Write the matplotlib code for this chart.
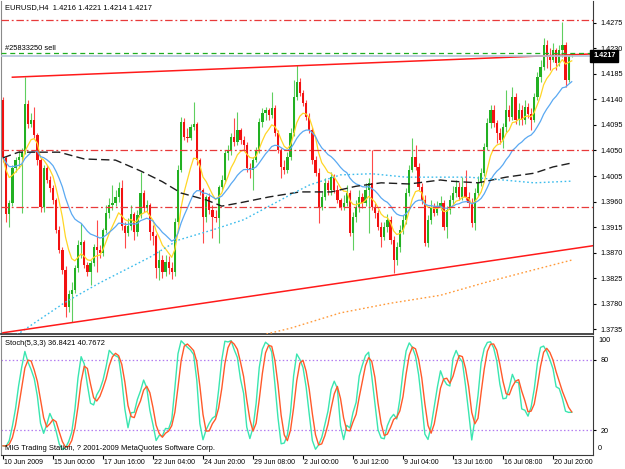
import numpy as np
import pandas as pd
import matplotlib
matplotlib.use("Agg")
import matplotlib.pyplot as plt

# EURUSD H4, 10 Jun 2009 08:00 .. 21 Jul 2009 20:00
opens = [
    1.4139, 1.4037, 1.3938, 1.3958, 1.4019, 1.4033, 1.4038, 1.4047, 1.4132, 1.4097,
    1.4104, 1.4077, 1.4033, 1.3950, 1.4019, 1.3998, 1.3984, 1.3963, 1.3910, 1.3875,
    1.3840, 1.3774, 1.3797, 1.3804, 1.3843, 1.3884, 1.3889, 1.3848, 1.3836, 1.3852,
    1.3880, 1.3875, 1.3870, 1.3910, 1.3940, 1.3954, 1.3958, 1.3968, 1.3984, 1.3917,
    1.3905, 1.3917, 1.3938, 1.3906, 1.3936, 1.3975, 1.3949, 1.3954, 1.3906, 1.3899,
    1.3843, 1.3857, 1.3836, 1.3854, 1.3843, 1.3836, 1.3924, 1.4016, 1.4100, 1.4074,
    1.4072, 1.4091, 1.4097, 1.4033, 1.3980, 1.3933, 1.3968, 1.3945, 1.3933, 1.3931,
    1.3986, 1.3998, 1.4046, 1.4051, 1.4074, 1.4065, 1.4086, 1.4069, 1.4060, 1.4019,
    1.4016, 1.4033, 1.4051, 1.4100, 1.4116, 1.4121, 1.4113, 1.4125, 1.4081, 1.4051,
    1.4021, 1.4016, 1.4038, 1.4081, 1.4144, 1.4171, 1.4151, 1.4134, 1.4109, 1.4086,
    1.4033, 1.4010, 1.3950, 1.3968, 1.3993, 1.3980, 1.4003, 1.3980, 1.3963, 1.3950,
    1.3958, 1.3975, 1.3905, 1.3933, 1.3950, 1.3968, 1.3958, 1.3980, 1.3993, 1.3950,
    1.3940, 1.3915, 1.3898, 1.3915, 1.3928, 1.3892, 1.3857, 1.3880, 1.3910, 1.3928,
    1.3975, 1.4016, 1.4038, 1.4021, 1.3986, 1.3963, 1.3887, 1.3928, 1.3950, 1.3940,
    1.3950, 1.3958, 1.3915, 1.3945, 1.3963, 1.3975, 1.3986, 1.3968, 1.3986, 1.3968,
    1.3958, 1.3922, 1.3975, 1.3993, 1.4010, 1.4056, 1.4098, 1.4121, 1.4098, 1.4081,
    1.4069, 1.4091, 1.4121, 1.4109, 1.4144, 1.4104, 1.4121, 1.4104, 1.4127, 1.4115,
    1.4104, 1.4144, 1.4179, 1.4197, 1.4236, 1.4215, 1.4209, 1.4227, 1.4204, 1.4227,
    1.4236, 1.4174, 1.4216,
]
highs = [
    1.4144, 1.4040, 1.3963, 1.4024, 1.4038, 1.4051, 1.4054, 1.4179, 1.4139, 1.4116,
    1.4127, 1.4081, 1.4037, 1.4024, 1.4024, 1.4005, 1.3989, 1.3966, 1.3917, 1.3880,
    1.3847, 1.3804, 1.3818, 1.3848, 1.3892, 1.3923, 1.3892, 1.3854, 1.3857, 1.3885,
    1.3928, 1.3884, 1.3914, 1.3954, 1.3966, 1.3989, 1.3980, 1.3994, 1.3998, 1.3924,
    1.3931, 1.3954, 1.3942, 1.3945, 1.4012, 1.3980, 1.3963, 1.3958, 1.3919, 1.3903,
    1.3875, 1.3866, 1.3866, 1.3864, 1.3854, 1.3931, 1.4024, 1.4109, 1.4107, 1.4090,
    1.4097, 1.4135, 1.4100, 1.4037, 1.3984, 1.3972, 1.3975, 1.3954, 1.3945, 1.3989,
    1.4007, 1.4051, 1.4060, 1.4081, 1.4107, 1.4118, 1.4090, 1.4076, 1.4065, 1.4028,
    1.4038, 1.4056, 1.4107, 1.4125, 1.4127, 1.4125, 1.4153, 1.4130, 1.4086, 1.4054,
    1.4033, 1.4047, 1.4090, 1.4174, 1.4201, 1.4177, 1.4157, 1.4139, 1.4116, 1.4091,
    1.4040, 1.4019, 1.3977, 1.4002, 1.3998, 1.4012, 1.4009, 1.3989, 1.3966, 1.3972,
    1.3989, 1.3980, 1.3942, 1.3963, 1.3980, 1.3975, 1.3993, 1.4002, 1.4051, 1.3958,
    1.3945, 1.3924, 1.3924, 1.3938, 1.3935, 1.3899, 1.3889, 1.3919, 1.3936, 1.3984,
    1.4024, 1.4072, 1.4060, 1.4028, 1.3993, 1.3972, 1.3936, 1.3963, 1.3958, 1.3961,
    1.3970, 1.3963, 1.3952, 1.3972, 1.3987, 1.3998, 1.3994, 1.4003, 1.4016, 1.3977,
    1.3966, 1.3984, 1.4005, 1.4019, 1.4063, 1.4107, 1.4130, 1.4130, 1.4104, 1.4090,
    1.4098, 1.4157, 1.4130, 1.4162, 1.4151, 1.4134, 1.4130, 1.4139, 1.4134, 1.4125,
    1.4151, 1.4188, 1.4209, 1.4248, 1.4245, 1.4230, 1.4239, 1.4230, 1.4236, 1.4276,
    1.4241, 1.4220, 1.4221,
]
lows = [
    1.4029, 1.3924, 1.3916, 1.3952, 1.4012, 1.4019, 1.3940, 1.4044, 1.4090, 1.4091,
    1.4072, 1.4024, 1.3942, 1.3942, 1.3993, 1.3977, 1.3956, 1.3905, 1.3870, 1.3833,
    1.3757, 1.3766, 1.3748, 1.3799, 1.3836, 1.3861, 1.3843, 1.3829, 1.3813, 1.3847,
    1.3836, 1.3861, 1.3864, 1.3905, 1.3931, 1.3945, 1.3952, 1.3959, 1.3910, 1.3878,
    1.3899, 1.3910, 1.3892, 1.3899, 1.3931, 1.3942, 1.3942, 1.3892, 1.3884, 1.3826,
    1.3822, 1.3826, 1.3829, 1.3833, 1.3824, 1.3829, 1.3919, 1.4012, 1.4069, 1.4065,
    1.4069, 1.4086, 1.4024, 1.3972, 1.3887, 1.3924, 1.3938, 1.3896, 1.3924, 1.3887,
    1.3980, 1.3993, 1.4033, 1.4042, 1.4058, 1.4060, 1.4062, 1.4051, 1.4012, 1.4002,
    1.3980, 1.4029, 1.4046, 1.4091, 1.4104, 1.4104, 1.4107, 1.4076, 1.4046, 1.4002,
    1.4009, 1.4010, 1.4033, 1.4076, 1.4139, 1.4146, 1.4128, 1.4104, 1.4081, 1.4026,
    1.4005, 1.3922, 1.3945, 1.3963, 1.3972, 1.3972, 1.3975, 1.3958, 1.3945, 1.3945,
    1.3952, 1.3899, 1.3875, 1.3924, 1.3942, 1.3949, 1.3952, 1.3905, 1.3945, 1.3931,
    1.3910, 1.3880, 1.3892, 1.3906, 1.3885, 1.3834, 1.3848, 1.3871, 1.3903, 1.3921,
    1.3970, 1.4012, 1.4016, 1.3980, 1.3956, 1.3882, 1.3880, 1.3921, 1.3935, 1.3936,
    1.3945, 1.3910, 1.3896, 1.3938, 1.3956, 1.3968, 1.3963, 1.3963, 1.3963, 1.3950,
    1.3915, 1.3910, 1.3970, 1.3987, 1.4005, 1.4051, 1.4090, 1.4091, 1.4063, 1.4062,
    1.4054, 1.4083, 1.4102, 1.4104, 1.4097, 1.4095, 1.4095, 1.4097, 1.4108, 1.4086,
    1.4100, 1.4139, 1.4171, 1.4192, 1.4195, 1.4192, 1.4206, 1.4192, 1.4199, 1.4215,
    1.4162, 1.4170, 1.4214,
]
closes = [
    1.4037, 1.3938, 1.3958, 1.4019, 1.4033, 1.4038, 1.4047, 1.4132, 1.4097, 1.4104,
    1.4077, 1.4033, 1.3950, 1.4019, 1.3998, 1.3984, 1.3963, 1.3910, 1.3875, 1.3840,
    1.3774, 1.3797, 1.3804, 1.3843, 1.3884, 1.3889, 1.3848, 1.3836, 1.3852, 1.3880,
    1.3875, 1.3870, 1.3910, 1.3940, 1.3954, 1.3958, 1.3968, 1.3984, 1.3917, 1.3905,
    1.3917, 1.3938, 1.3906, 1.3936, 1.3975, 1.3949, 1.3954, 1.3906, 1.3899, 1.3843,
    1.3857, 1.3836, 1.3854, 1.3843, 1.3836, 1.3924, 1.4016, 1.4100, 1.4074, 1.4072,
    1.4091, 1.4097, 1.4033, 1.3980, 1.3933, 1.3968, 1.3945, 1.3933, 1.3931, 1.3986,
    1.3998, 1.4046, 1.4051, 1.4074, 1.4065, 1.4086, 1.4069, 1.4060, 1.4019, 1.4016,
    1.4033, 1.4051, 1.4100, 1.4116, 1.4121, 1.4113, 1.4125, 1.4081, 1.4051, 1.4021,
    1.4016, 1.4038, 1.4081, 1.4144, 1.4171, 1.4151, 1.4134, 1.4109, 1.4086, 1.4033,
    1.4010, 1.3950, 1.3968, 1.3993, 1.3980, 1.4003, 1.3980, 1.3963, 1.3950, 1.3958,
    1.3975, 1.3905, 1.3933, 1.3950, 1.3968, 1.3958, 1.3980, 1.3993, 1.3950, 1.3940,
    1.3915, 1.3898, 1.3915, 1.3928, 1.3892, 1.3857, 1.3880, 1.3910, 1.3928, 1.3975,
    1.4016, 1.4038, 1.4021, 1.3986, 1.3963, 1.3887, 1.3928, 1.3950, 1.3940, 1.3950,
    1.3958, 1.3915, 1.3945, 1.3963, 1.3975, 1.3986, 1.3968, 1.3986, 1.3968, 1.3958,
    1.3922, 1.3975, 1.3993, 1.4010, 1.4056, 1.4098, 1.4121, 1.4098, 1.4081, 1.4069,
    1.4091, 1.4121, 1.4109, 1.4144, 1.4104, 1.4121, 1.4104, 1.4127, 1.4115, 1.4104,
    1.4144, 1.4179, 1.4197, 1.4236, 1.4215, 1.4209, 1.4227, 1.4204, 1.4227, 1.4236,
    1.4174, 1.4216, 1.4217,
]

# long moving averages (their history starts before the visible window)
ma_slow_bars = [0, 5, 18, 26, 36, 44, 51, 57, 65, 70, 76, 85, 95, 105, 113, 121, 130, 140, 143, 152, 161, 170, 176, 182]
ma_slow_vals = [1.4037, 1.4047, 1.4047, 1.4035, 1.4033, 1.4014, 1.3995, 1.3975, 1.3963, 1.3952, 1.3958, 1.3968,
                1.3977, 1.3977, 1.3987, 1.3993, 1.3991, 1.3998, 1.3996, 1.3993, 1.4003, 1.4010, 1.4021, 1.4028]
ma_long_bars = [0, 20, 31, 47, 56, 67, 77, 93, 98, 108, 118, 129, 140, 149, 160, 170, 182]
ma_long_vals = [1.3709, 1.3783, 1.3817, 1.3862, 1.3892, 1.3910, 1.3928, 1.3975, 1.3989, 1.4007, 1.4009,
                1.4003, 1.4003, 1.4003, 1.3998, 1.3993, 1.3996]
ma_vlong_bars = [83, 92, 108, 124, 140, 154, 170, 182]
ma_vlong_vals = [1.3725, 1.3737, 1.3764, 1.3781, 1.3795, 1.3817, 1.3840, 1.3857]

# chart objects
trend_upper = [(3, 1.4179), (188.5, 1.4220)]
trend_lower = [(0, 1.3729), (188.5, 1.3882)]
levels = [1.4280, 1.4050, 1.3950]
order_price = 1.4222
bid = 1.4217

date_bars = [0, 16, 32, 48, 64, 80, 96, 112, 128, 144, 160, 176]
date_labels = ["10 Jun 2009", "15 Jun 00:00", "17 Jun 16:00", "22 Jun 04:00", "24 Jun 20:00",
               "29 Jun 08:00", "2 Jul 00:00", "6 Jul 12:00", "9 Jul 04:00", "13 Jul 16:00",
               "16 Jul 08:00", "20 Jul 20:00"]
price_ticks = [1.4275, 1.4230, 1.4185, 1.4140, 1.4095, 1.4050, 1.4005, 1.3960,
               1.3915, 1.3870, 1.3825, 1.3780, 1.3735]

W, H = 625, 469
plt.rcParams["font.family"] = ["Liberation Sans", "DejaVu Sans"]
fig = plt.figure(figsize=(W / 100, H / 100), dpi=100, facecolor="white")


def px_axes(x0, y0, x1, y1):
    return fig.add_axes([x0 / W, 1 - y1 / H, (x1 - x0) / W, (y1 - y0) / H])


def ftext(x, y, s, **kw):
    fig.text(x / W, 1 - y / H, s, va="center", ha="left", **kw)


ax = px_axes(1, 1, 593, 334)
st = px_axes(1, 335.5, 593, 454.5)
xmin, xmax = -0.64, 188.8

o = np.array(opens); h = np.array(highs); l = np.array(lows); c = np.array(closes)
idx = np.arange(len(c))
up = c >= o
dn = ~up

# candles
ax.vlines(idx[up], l[up], h[up], color="#5fcf5f", lw=0.8, zorder=2)
ax.vlines(idx[dn], l[dn], h[dn], color="#ff4a4a", lw=0.8, zorder=2)
body = np.maximum(np.abs(c - o), 0.00012)
ax.bar(idx[up], body[up], bottom=np.minimum(o, c)[up], width=0.72, color="#22b022", lw=0, zorder=3)
ax.bar(idx[dn], body[dn], bottom=np.minimum(o, c)[dn], width=0.72, color="#f21111", lw=0, zorder=3)

# moving averages
cs = pd.Series(c)
ax.plot(idx, cs.ewm(span=8, adjust=False).mean(), color="#ffd626", lw=0.9, zorder=4)
ax.plot(idx, cs.ewm(span=21, adjust=False).mean(), color="#5aa9f2", lw=0.9, zorder=4)
ax.plot(ma_slow_bars, ma_slow_vals, color="#1e1e1e", lw=1.0, dashes=(6, 3), zorder=4)
ax.plot(ma_long_bars, ma_long_vals, color="#3cbcec", lw=1.0, dashes=(1.2, 1.8), zorder=4)
ax.plot(ma_vlong_bars, ma_vlong_vals, color="#ff9a3a", lw=1.0, dashes=(1.2, 1.8), zorder=4)

# trendlines (rays)
for (x0, y0), (x1, y1) in (trend_upper, trend_lower):
    k = (y1 - y0) / (x1 - x0)
    ax.plot([x0, xmax], [y0, y0 + k * (xmax - x0)], color="#ff1a1a", lw=1.1, zorder=5)

for lv in levels:
    ax.axhline(lv, color="#e83a3a", lw=0.9, dashes=(6, 2.2, 1.5, 2.2), zorder=5)
ax.axhline(order_price, color="#1fae1f", lw=0.9, dashes=(4, 3), zorder=5)
ax.axhline(bid, color="#b4c2da", lw=1.2, zorder=5)

ax.set_xlim(xmin, xmax)
ax.set_ylim(1.37268, 1.43132)
ax.set_xticks([])
ax.yaxis.tick_right()
ax.set_yticks(price_ticks)
ax.set_yticklabels([f"{p:.4f}" for p in price_ticks])
ax.tick_params(axis="y", length=2.5, width=0.8, pad=3, labelsize=5.2, colors="black")
ax.spines["top"].set_visible(False)
ax.spines["left"].set_color("#8a8a8a")
ax.spines["bottom"].set_color("#3a3a3a")
ax.spines["bottom"].set_linewidth(1.3)
ax.spines["right"].set_color("#3a3a3a")

# bid price tag
ax.text(1.0, bid, f"{bid:.4f}", transform=ax.get_yaxis_transform(), ha="left", va="center",
        fontsize=5.2, color="white", fontweight="bold",
        bbox=dict(boxstyle="square,pad=0.35", facecolor="black", edgecolor="black"), zorder=10,
        clip_on=False)

# stochastic (5,3,3)
hs, ls_ = pd.Series(h), pd.Series(l)
ll5 = ls_.rolling(5, min_periods=1).min()
hh5 = hs.rolling(5, min_periods=1).max()
k_main = 100 * (cs - ll5).rolling(3, min_periods=1).sum() / (hh5 - ll5).rolling(3, min_periods=1).sum()
d_sig = k_main.rolling(3, min_periods=1).mean()
st.plot(idx, k_main, color="#3ae6b0", lw=1.0, zorder=3)
st.plot(idx, d_sig, color="#ff5a2a", lw=1.0, zorder=4)
for lv in (80, 20):
    st.axhline(lv, color="#b27cf0", lw=0.9, dashes=(1.2, 1.8), zorder=2)
st.set_xlim(xmin, xmax)
st.set_ylim(-0.42, 100.42)
st.yaxis.tick_right()
st.set_yticks([80, 20])
st.set_yticklabels(["80", "20"])
st.tick_params(axis="y", length=2.5, width=0.8, pad=3, labelsize=5.2)
st.text(1.0 + 5 / 592, 96.2, "100", transform=st.get_yaxis_transform(), ha="left", va="center", fontsize=5.2)
st.text(1.0 + 5 / 592, 4.4, "0", transform=st.get_yaxis_transform(), ha="left", va="center", fontsize=5.2)
st.set_xticks(date_bars)
st.set_xticklabels([])
st.tick_params(axis="x", length=3, width=0.8, direction="out")
for b, lab in zip(date_bars, date_labels):
    st.text(b + 0.3, -0.065, lab, transform=st.get_xaxis_transform(), ha="left", va="center",
            fontsize=5.0, clip_on=False)
st.spines["left"].set_color("#8a8a8a")
for side in ("top", "bottom", "right"):
    st.spines[side].set_color("#3a3a3a")

# captions
ftext(5, 8, "EURUSD,H4  1.4216 1.4221 1.4214 1.4217", fontsize=5.4)
ftext(5, 48, "#25833250 sell", fontsize=5.4)
ftext(5, 343, "Stoch(5,3,3) 36.8421 40.7672", fontsize=5.4)
ftext(5, 448, "MIG Trading Station, ? 2001-2009 MetaQuotes Software Corp.", fontsize=5.4)

fig.savefig("out.png", dpi=100, facecolor="white")
